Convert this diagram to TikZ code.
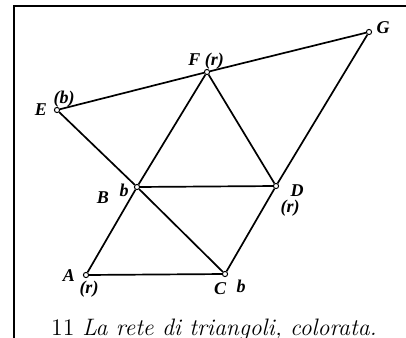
\documentclass[tikz,border=0pt]{standalone}
\usepackage{fontspec}
\newfontfamily\lblfont{Liberation Serif}
\usepackage{tikz}
\usetikzlibrary{positioning}

\begin{document}
\begin{tikzpicture}[
    x=0.5pt, y=-0.5pt,
    vtx/.style={circle, draw, fill=white, line width=0.5pt, inner sep=0pt, minimum size=2.6pt},
    lbl/.style={inner sep=0pt, font=\lblfont\fontsize{9}{10}\selectfont\bfseries\itshape},
    edge/.style={line width=0.85pt},
    frame/.style={line width=1.1pt}
]
\useasboundingbox (0,0) rectangle (406,337);
\draw[frame] (14,340) -- (14,6) -- (406,6);
% vertici
\node[vtx] (A) at (86,275) {};
\node[vtx] (B) at (137,187) {};
\node[vtx] (C) at (225,274) {};
\node[vtx] (D) at (276,186) {};
\node[vtx] (E) at (57,110) {};
\node[vtx] (F) at (207,72) {};
\node[vtx] (G) at (369,32) {};
% lati
\draw[edge] (A) -- (C);
\draw[edge] (A) -- (B);
\draw[edge] (B) -- (C);
\draw[edge] (B) -- (D);
\draw[edge] (C) -- (D);
\draw[edge] (D) -- (G);
\draw[edge] (E) -- (B);
\draw[edge] (B) -- (F);
\draw[edge] (F) -- (D);
\draw[edge] (E) -- (F);
\draw[edge] (F) -- (G);
% etichette
\node[lbl] (lA) at (69,276) {A};
\node[lbl] (cA) at (89,289) {(r)};
\node[lbl] (lB) at (103,198) {B};
\node[lbl] (cB) at (124,190) {b};
\node[lbl] (lC) at (220,289) {C};
\node[lbl] (cC) at (241,286) {b};
\node[lbl] (lD) at (297,191) {D};
\node[lbl] (cD) at (290,208) {(r)};
\node[lbl] (lE) at (41,110) {E};
\node[lbl] (cE) at (64,99) {(b)};
\node[lbl] (lF) at (206,61) {F (r)};
\node[lbl] (lG) at (383,28) {G};
\node[anchor=base, inner sep=0pt, font=\fontsize{11.9}{13}\selectfont] (cap) at (214,335) {11 \textit{La rete di triangoli, colorata.}};
\end{tikzpicture}
\end{document}
